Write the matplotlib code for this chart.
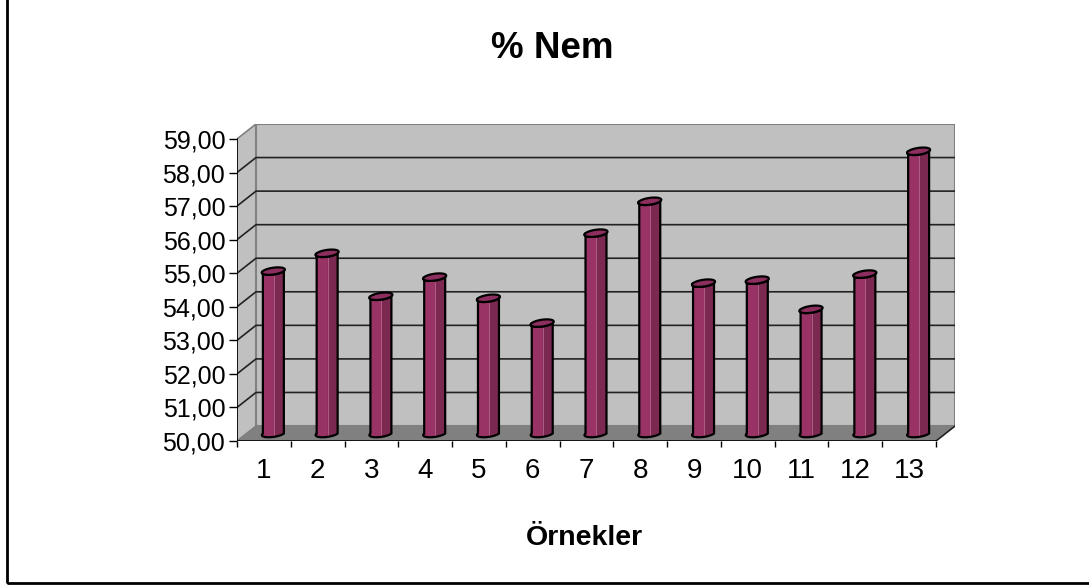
import numpy as np
import matplotlib.pyplot as plt
from matplotlib.patches import Polygon, Rectangle

plt.rcParams['font.family'] = ['Liberation Sans', 'DejaVu Sans']

# veriler
samples = list(range(1, 14))
nem = [54.84, 55.37, 54.09, 54.66, 54.03, 53.29, 55.97, 56.92,
       54.48, 54.57, 53.70, 54.75, 58.41]
y_ticks = np.arange(50, 60)
y_labels = [f'{v:.2f}'.replace('.', ',') for v in y_ticks]
title = '% Nem'
xlabel = 'Örnekler'

# görünüm
ymin, ymax = 50, 59
dx, dy = 0.353, 0.446      # 3B derinlik kayması (veri birimi)
bar_w = 0.39
bar_color = '#993366'
bar_dark = '#7c2952'
top_color = '#8c2f5e'
wall_color = '#c0c0c0'
floor_color = '#808080'

fig = plt.figure(figsize=(10.89, 5.88), dpi=100)
ax = fig.add_axes([237/1089, 147/588, 718/1089, 317/588])
x0, x1 = 0.5, len(samples) + 0.5
ax.set_xlim(x0, x1 + dx)
ax.set_ylim(ymin, ymax + dy)
ax.patch.set_visible(False)
for s in ax.spines.values():
    s.set_visible(False)

# duvarlar ve zemin
ax.add_patch(Polygon([(x0, ymin), (x0, ymax), (x0 + dx, ymax + dy), (x0 + dx, ymin + dy)],
                     fc=wall_color, ec='#808080', lw=1.2, zorder=0))
ax.add_patch(Rectangle((x0 + dx, ymin + dy), x1 - x0, ymax - ymin,
                       fc=wall_color, ec='#808080', lw=1.5, zorder=0))
ax.add_patch(Polygon([(x0, ymin), (x1, ymin), (x1 + dx, ymin + dy), (x0 + dx, ymin + dy)],
                     fc=floor_color, ec='none', zorder=1))

# kılavuz çizgileri
for v in y_ticks[1:-1]:
    ax.plot([x0, x0 + dx, x1 + dx], [v, v + dy, v + dy], color='#222222', lw=1.2, zorder=1)
ax.plot([x1, x1 + dx], [ymin, ymin + dy], color='#222222', lw=1.2, zorder=1)

# silindir çubuklar
r = bar_w / 2
hx, hy = dx / 4, dy / 4
t_front = np.linspace(np.pi, 2 * np.pi, 60)
t_strip = np.linspace(2 * np.pi - np.arccos(0.45), 2 * np.pi, 30)
t_full = np.linspace(0, 2 * np.pi, 120)
for s, v in zip(samples, nem):
    cx = s + dx / 2
    base = ymin + dy / 2
    top = v + dy / 2

    def ring(t, h):
        return np.column_stack([cx + r * np.cos(t) + hx * np.sin(t), h + hy * np.sin(t)])

    body = np.vstack([ring(t_front, base), ring(t_front[::-1], top)])
    strip = np.vstack([ring(t_strip, base), ring(t_strip[::-1], top)])
    ax.add_patch(Polygon(body, fc=bar_color, ec='none', zorder=3))
    ax.add_patch(Polygon(strip, fc=bar_dark, ec='none', zorder=3))
    ax.plot(strip[[0, -1], 0], strip[[0, -1], 1], color='#b5668c', lw=0.6, zorder=3)
    ax.add_patch(Polygon(body, fill=False, ec='black', lw=1.6, zorder=4))
    ax.add_patch(Polygon(ring(t_full, top), fc=top_color, ec='black', lw=1.6, zorder=4))

# eksen çizgileri
ax.plot([x0, x0], [ymin, ymax], color='black', lw=1.2, zorder=5)
ax.plot([x0, x1], [ymin, ymin], color='black', lw=1.2, zorder=5)

ax.set_yticks(y_ticks, y_labels)
ax.tick_params(axis='y', length=5.5, width=1, pad=3, labelsize=18)
ax.set_xticks(samples, [str(s) for s in samples])
ax.set_xticks(np.arange(x0, x1 + 0.01, 1), minor=True)
ax.tick_params(axis='x', which='major', length=0, pad=12, labelsize=20)
ax.tick_params(axis='x', which='minor', length=4.5, width=1)

fig.text(552/1089, 1 - 58/588, title, ha='center', va='baseline',
         fontsize=26.5, fontweight='bold')
fig.text(584/1089, 1 - 545/588, xlabel, ha='center', va='baseline',
         fontsize=20.5, fontweight='bold')

fig.add_artist(Rectangle((7/1089, 5/588), 1.02, 1.0, transform=fig.transFigure,
                         fill=False, ec='black', lw=2))

fig.savefig('out.png', dpi=100)
